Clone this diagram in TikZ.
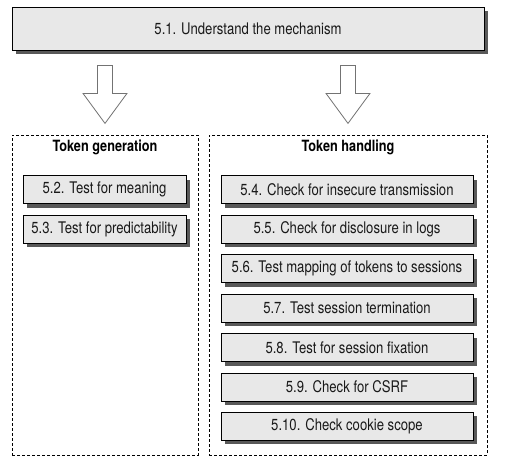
\documentclass[tikz,border=0pt]{standalone}
\usepackage{fontspec}
\setmainfont{TeX Gyre Heros}[FakeStretch=0.82]
\usepackage{tikz}
\usetikzlibrary{shadows,calc}

\begin{document}
\begin{tikzpicture}[x=1pt,y=-1pt,
	stage/.style={draw,line width=0.8pt,fill=black!9,inner sep=0pt,text=black!90,font=\fontsize{16}{18}\selectfont,
		drop shadow={shadow xshift=4pt,shadow yshift=-4pt,fill=black!65,opacity=1}},
	task/.style={stage,minimum height=28pt},
	group/.style={draw,dash pattern=on 3pt off 2pt,line width=0.6pt},
	kop/.style={font=\bfseries\fontsize{15.5}{17}\selectfont},
	blockarrow/.style={draw=black!55,line width=0.8pt,fill=white}]
	\useasboundingbox (0,0) rectangle (515,463);
	\node[stage,minimum width=472pt,minimum height=43pt] (top) at (248,28.5) {5.1. Understand the mechanism};
	\node[group,minimum width=186pt,minimum height=320pt] (gen) at (105,295) {};
	\node[group,minimum width=278pt,minimum height=320pt] (hand) at (348,295) {};
	\node[kop] at (105,147) {Token generation};
	\node[kop] at (348,147) {Token handling};
	\node[task,minimum width=163pt] (t52) at (104.5,189.5) {5.2. Test for meaning};
	\node[task,minimum width=163pt] (t53) at (104.5,229) {5.3. Test for predictability};
	\node[task,minimum width=252pt] (t54) at (347,189.5) {5.4. Check for insecure transmission};
	\node[task,minimum width=252pt] (t55) at (347,229) {5.5. Check for disclosure in logs};
	\node[task,minimum width=252pt] (t56) at (347,268.5) {5.6. Test mapping of tokens to sessions};
	\node[task,minimum width=252pt] (t57) at (347,308) {5.7. Test session termination};
	\node[task,minimum width=252pt] (t58) at (347,347.5) {5.8. Test for session fixation};
	\node[task,minimum width=252pt] (t59) at (347,387) {5.9. Check for CSRF};
	\node[task,minimum width=252pt] (t510) at (347,426) {5.10. Check cookie scope};
	\foreach \g in {gen,hand}
		\draw[blockarrow] ($(top.south -| \g.north)+(-7.5,15)$) -- ++(15,0) -- ++(0,28) -- ++(14.5,0)
			-- ++(-22,30) -- ++(-22,-30) -- ++(14.5,0) -- cycle;
\end{tikzpicture}
\end{document}
